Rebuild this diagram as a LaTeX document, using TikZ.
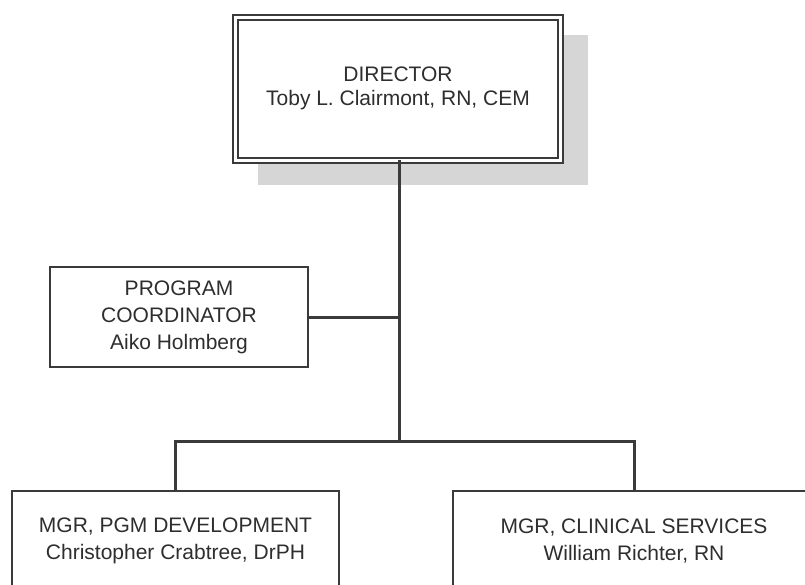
\documentclass[tikz,border=0pt]{standalone}
\usepackage{fontspec}
\setmainfont{Liberation Sans}
\definecolor{linegray}{HTML}{3A3A3A}
\definecolor{textgray}{HTML}{2E2E2E}
\definecolor{shadowgray}{HTML}{D6D6D6}
\begin{document}
\begin{tikzpicture}[x=1pt,y=-1pt,
  every node/.style={text=textgray, font=\fontsize{21}{26}\selectfont, align=center, inner sep=0pt},
  orgbox/.style={draw=linegray, line width=2.6pt, fill=white},
  dirbox/.style={draw=linegray, fill=white, line width=2pt, double=white, double distance=3pt},
  conn/.style={draw=linegray, line width=3pt, line cap=rect}]
\useasboundingbox (0,0) rectangle (805,584);
\clip (0,0) rectangle (805,584);
\fill[white] (0,0) rectangle (805,584);
% shadow of the director box
\fill[shadowgray] (258,35) rectangle (588,185);
% nodes
\node[dirbox, minimum width=325pt, minimum height=143pt,
      font=\fontsize{21}{23.5}\selectfont] (dir) at (398,88.5)
  {DIRECTOR\\Toby L. Clairmont, RN, CEM};
\node[orgbox, minimum width=258pt, minimum height=100pt,
      font=\fontsize{21}{27}\selectfont] (pc) at (179,317)
  {PROGRAM\\COORDINATOR\\Aiko Holmberg};
\node[orgbox, minimum width=327pt, minimum height=100pt,
      font=\fontsize{21}{27}\selectfont] (mpd) at (175.5,541)
  {MGR, PGM DEVELOPMENT\\Christopher Crabtree, DrPH};
\node[orgbox, minimum width=362pt, minimum height=100pt,
      font=\fontsize{21}{27}\selectfont] (mcs) at (634,541)
  {MGR, CLINICAL SERVICES\\William Richter, RN};
\coordinate (j) at (399.5,441);
% connectors
\draw[conn] (dir.south -| j) -- (j);
\draw[conn] (pc.east) -- (pc.east -| j);
\draw[conn] (mpd.north) |- (j) -| (mcs.north);
\end{tikzpicture}
\end{document}
